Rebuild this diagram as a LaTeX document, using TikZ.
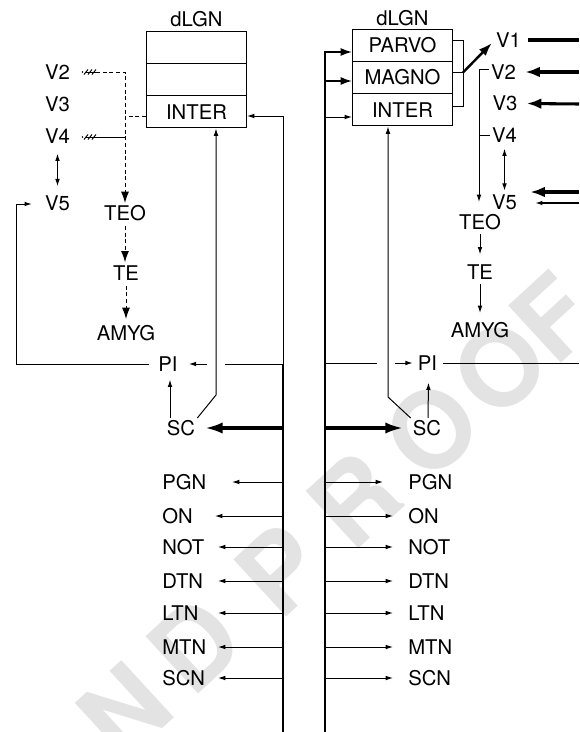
\documentclass[tikz,border=0pt]{standalone}
\usepackage{fontspec}
\setmainfont{TeX Gyre Heros}
\usetikzlibrary{arrows.meta,calc}
\begin{document}
\begin{tikzpicture}[x=0.75pt,y=-0.75pt,
  txt/.style={inner sep=1.5pt,font=\fontsize{15.2}{18}\selectfont},
  rowbox/.style={draw,line width=0.75pt,minimum width=75pt,minimum height=24.2pt,inner sep=0pt,font=\fontsize{15.2}{18}\selectfont},
  thn/.style={line width=0.75pt},
  thk/.style={line width=2pt},
  thkk/.style={line width=2.3pt},
  mid/.style={line width=1.2pt},
  sa/.style={-{Latex[length=5.5pt,width=3.5pt]}},
  dsa/.style={{Latex[length=5.5pt,width=3.5pt]}-{Latex[length=5.5pt,width=3.5pt]}},
  ma/.style={-{Latex[length=8.5pt,width=6pt]}},
  ba/.style={-{Latex[length=13pt,width=8.5pt]}},
  bb/.style={-{Latex[length=11pt,width=8pt]}},
  dsh/.style={dash pattern=on 3pt off 2pt},
  wm/.style={text=black!11,font=\fontsize{80}{80}\bfseries\selectfont,inner sep=0pt,rotate=42.6}
]
\useasboundingbox (0,0) rectangle (579,732);
% watermark
\foreach \c/\x/\y [count=\i] in {N/125/711,D/195/645,P/280/570,R/355/500,O/432/430,O/500/368,F/553/318}
  \node[wm] (wm\i) at (\x,\y) {\c};

% ---------- left ----------
\node[txt] (lD) at (196.5,19.5) {dLGN};
\node[rowbox] (lR1) at (196.5,47.2) {};
\node[rowbox] (lR2) at (196.5,79.5) {};
\node[rowbox] (lIN) at (196.5,111.8) {INTER};
\node[txt] (lV2) at (57.5,72) {V2};
\node[txt] (lV3) at (57.5,104.5) {V3};
\node[txt] (lV4) at (57.5,136) {V4};
\node[txt] (lV5) at (57.5,203) {V5};
\node[txt] (lTEO) at (125,213) {TEO};
\node[txt] (lTE) at (126,273) {TE};
\node[txt] (lAM) at (126,333) {AMYG};
\node[txt] (lPI) at (168,364) {PI};
\node[txt] (lSC) at (181,428) {SC};

\coordinate (h2) at (82,72);
\coordinate (h4) at (82,137);
\foreach \h in {h2,h4}{
  \fill ($(\h)+(0.5,0)$) circle (0.8);
  \draw[thn] ($(\h)+(3,0)$) -- ++(11,0);
  \foreach \d in {4,8,12} \draw[thn] ($(\h)+(\d-2,2.5)$) -- ++(4,-5);
}
\draw[thn,dsh,ma] ($(h2)+(14,0)$) -| (lTEO.north);
\coordinate (lINd) at ($(lIN.west)+(0,5)$);
\draw[thn,dsh] (lINd) -- (lINd -| lTEO);
\draw[thn] ($(h4)+(14,0)$) -- (h4 -| lTEO);
\draw[thn,dsa] ($(lV4.south)+(0,8)$) -- ($(lV5.north)+(0,-7)$);
\draw[thn,dsh,ma] ($(lTEO.south)+(0,3)$) -- ($(lTEO.south |- lTE.north)+(0,-1)$);
\draw[thn,dsh,ma] ($(lTE.south)+(0,3)$) -- ($(lTE.south |- lAM.north)+(0,-4)$);
\draw[thn,sa] ($(lPI.west)+(-7,0)$) -| ($(lV5.west)+(-26,1)$) -- ($(lV5.west)+(-11,1)$);

\coordinate (lT1) at (283,116);
\coordinate (lT2) at (283,364);
\coordinate (lT3) at (283,732);
\draw[thn] (lT1) -- (lT2);
\draw[thk] (lT2) -- (lT3);
\draw[thn,sa] (lT1) -- (lT1 -| lIN.east);
\draw[thn] (lT2) -- ++(-58,0);
\draw[thn,sa] ($(lPI.east)+(27,0)$) -- ($(lPI.east)+(9,0)$);
\coordinate (lbend) at (216,395);
\draw[thn,sa] (lSC.north east) -- (lbend) -- (lbend |- lIN.south);
\draw[thn,sa] ($(lPI |- lSC.north)+(2,0)$) -- ($(lPI.south)+(2,6)$);
\draw[thkk,ba] (lT2 |- lSC) -- ($(lSC.east)+(8,0)$);

% ---------- right ----------
\node[txt] (rD) at (402.5,18) {dLGN};
\node[rowbox] (rP) at (402.5,45.2) {PARVO};
\node[rowbox] (rM) at (402.5,77.5) {MAGNO};
\node[rowbox] (rI) at (402.5,109.8) {INTER};
\node[txt] (rV1) at (508.5,40) {V1};
\node[txt] (rV2) at (503.5,72) {V2};
\node[txt] (rV3) at (505,103.5) {V3};
\node[txt] (rV4) at (504.5,135) {V4};
\node[txt] (rV5) at (504.5,202) {V5};
\node[txt] (rTEO) at (480,222) {TEO};
\node[txt] (rTE) at (480,272) {TE};
\node[txt] (rAM) at (480,330) {AMYG};
\node[txt] (rPI) at (427.5,363) {PI};
\node[txt] (rSC) at (427,428) {SC};

\coordinate (bT) at (463,40.5);
\coordinate (bM) at (463,72.5);
\coordinate (bB) at (463,106);
\draw[thn] (bT -| rP.east) -- (bT) -- (bB) -- (bB -| rI.east);
\draw[thn] (bM -| rM.east) -- (bM);
\draw[line width=1.8pt,-{Latex[length=10pt,width=7pt]}] (bM) -- ($(rV1.west)+(-2,3)$);

\coordinate (rtip) at (479,202);
\draw[thn,sa] ($(rV2.west)+(0,-3)$) -| (rtip);
\draw[thn] (rV4.west) -- (rtip |- rV4.west);
\draw[thn,dsa] ($(rV4.south)+(0,4)$) -- ($(rV5.north)+(0,-1.5)$);

\coordinate (rE1) at (579,40);
\coordinate (rE2) at (579,72);
\coordinate (rE3) at (579,104);
\coordinate (rE5) at (579,192);
\coordinate (rE6) at (579,203);
\draw[thkk] ($(rV1.east)+(5,0)$) -- (rE1);
\draw[thkk,bb] (rE2) -- ($(rV2.east)+(7,0)$);
\draw[thkk,bb] (rE3) -- ($(rV3.east)+(7,0)$);
\draw[thkk,bb] (rE5) -- ($(rV5.east)+(11,-10)$);
\draw[line width=1pt,sa] (rE6) -- ($(rV5.east)+(16,1)$);

\draw[thn,sa] ($(rTEO.south)+(0,2)$) -- ($(rTE.north)+(0,-8)$);
\draw[thn,sa] ($(rTE.south)+(0,2)$) -- ($(rAM.north)+(0,-7)$);

\coordinate (rT0) at (325,52);
\coordinate (rT2) at (325,363);
\coordinate (rT3) at (325,732);
\coordinate (rEPI) at (579,363);
\draw[thn] (rT2) -- ++(52,0);
\draw[thn,sa] ($(rPI.west)+(-21,0)$) -- ($(rPI.west)+(-3,0)$);
\draw[thn] ($(rPI.east)+(4,0)$) -- (rEPI);

\draw[thk] (rT3) -- (rT0);
\draw[mid,ma] ($(rT0)+(-1,0)$) -- (rT0 -| rP.west);
\coordinate (rTM) at (325,81);
\draw[mid,ma] (rTM) -- (rTM -| rM.west);
\coordinate (rTI) at (325,117);
\draw[thn,sa] (rTI) -- (rTI -| rI.west);
\coordinate (rbend) at (388,397);
\draw[thn,sa] (rSC.north west) -- (rbend) -- (rbend |- rI.south);
\draw[thn,sa] ($(rSC.north)+(1,0)$) -- ($(rPI.south)+(1,10)$);
\draw[thkk,ba] (rT2 |- rSC) -- ($(rSC.west)+(-8,0)$);

% ---------- lists ----------
\foreach \n/\y/\lt/\rt in {PGN/482/232/383, ON/516/215/393, NOT/547/218/393, DTN/581/218/393, LTN/613/218/393, MTN/647/218/393, SCN/678/218/393}{
  \node[txt,anchor=west] (l\n) at (160,\y) {\n};
  \node[txt,anchor=west] (r\n) at (406,\y) {\n};
  \coordinate (la\n) at (\lt,\y);
  \coordinate (ra\n) at (\rt,\y);
  \draw[thn,sa] (lT3 |- l\n) -- (la\n);
  \draw[thn,sa] (rT3 |- r\n) -- (ra\n);
}
\end{tikzpicture}
\end{document}
